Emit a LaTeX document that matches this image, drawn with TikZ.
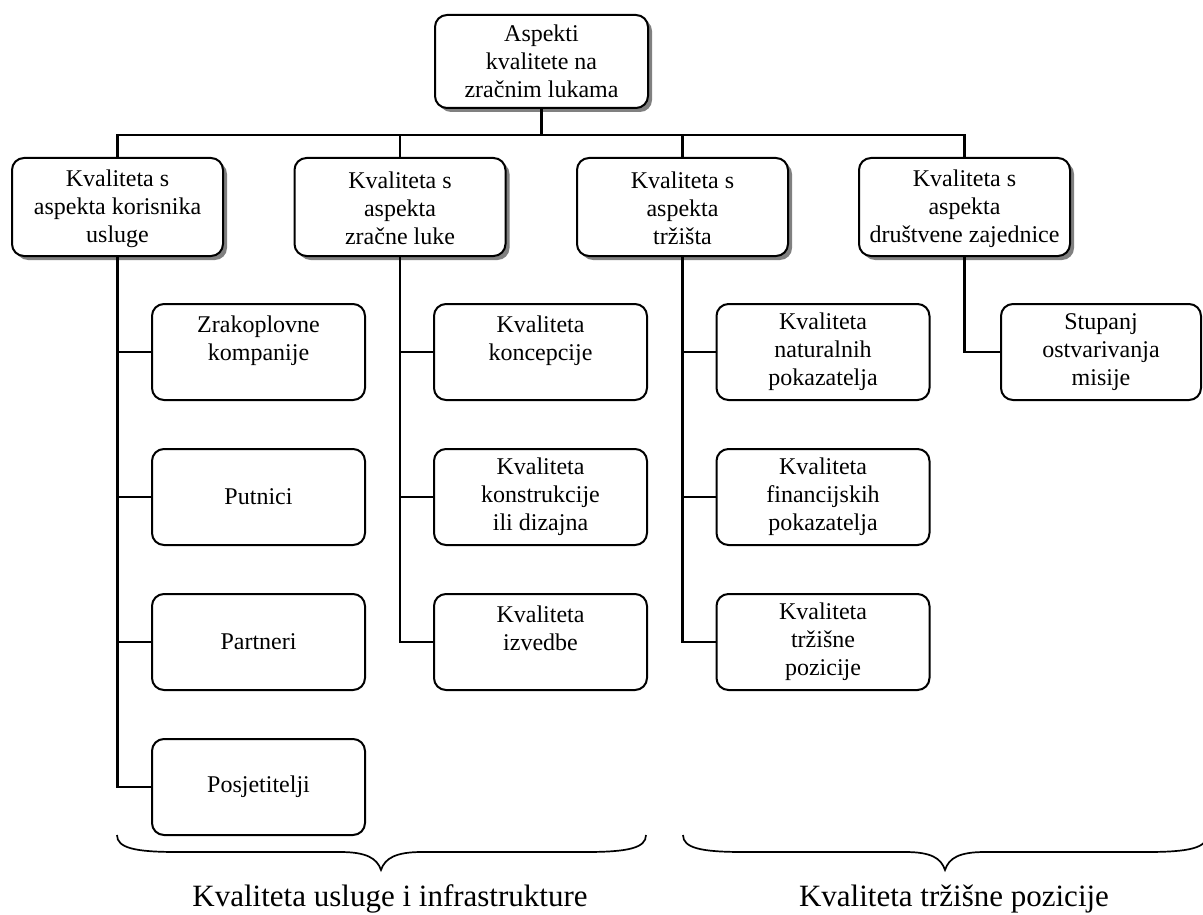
\documentclass[tikz,border=0pt]{standalone}
\usepackage{fontspec}
\setmainfont{Liberation Serif}
\usetikzlibrary{shadows}
\begin{document}
\begin{tikzpicture}[x=1pt,y=-1pt,
  box/.style={draw, line width=2pt, rounded corners=12pt, fill=white, align=center,
    inner sep=0pt, font=\fontsize{24}{28}\selectfont},
  topbox/.style={box, minimum width=211pt, minimum height=98pt,
    drop shadow={shadow xshift=4pt, shadow yshift=-4pt, fill=black!50, opacity=1}},
  rootbox/.style={box, minimum width=213pt, minimum height=93pt,
    drop shadow={shadow xshift=4pt, shadow yshift=-4pt, fill=black!50, opacity=1}},
  childbox/.style={box, minimum width=213pt, minimum height=96pt},
  conn/.style={line width=2.8pt},
  brc/.style={line width=1.7pt},
  lbl/.style={font=\fontsize{31}{36}\selectfont, inner sep=0pt}]
\useasboundingbox (0,0) rectangle (1203,915);

% root and top level
\node[rootbox] (root) at (541.5,61.5) {Aspekti\\kvalitete na\\zračnim lukama};
\node[topbox] (b1) at (117.5,207) {\rule{0pt}{20pt}Kvaliteta s\\aspekta korisnika\\usluge};
\node[topbox] (b2) at (400,207) {\rule{0pt}{20pt}Kvaliteta s\\aspekta\\zračne luke};
\node[topbox] (b3) at (682.5,207) {\rule{0pt}{20pt}Kvaliteta s\\aspekta\\tržišta};
\node[topbox] (b4) at (964.5,207) {\rule{0pt}{20pt}Kvaliteta s\\aspekta\\društvene zajednice};

% children column 1
\node[childbox] (c11) at (258.5,352) {Zrakoplovne\\kompanije\\~};
\node[childbox] (c12) at (258.5,497) {Putnici};
\node[childbox] (c13) at (258.5,642) {Partneri};
\node[childbox] (c14) at (258.5,787) {Posjetitelji};
% column 2
\node[childbox] (c21) at (540.5,352) {Kvaliteta\\koncepcije\\~};
\node[childbox] (c22) at (540.5,497) {Kvaliteta\\konstrukcije\\ili dizajna};
\node[childbox] (c23) at (540.5,642) {Kvaliteta\\izvedbe\\~};
% column 3
\node[childbox] (c31) at (823,352) {Kvaliteta\\naturalnih\\pokazatelja};
\node[childbox] (c32) at (823,497) {Kvaliteta\\financijskih\\pokazatelja};
\node[childbox] (c33) at (823,642) {Kvaliteta\\tržišne\\pozicije};
% column 4
\node[childbox, minimum width=200pt] (c41) at (1101,352) {Stupanj\\ostvarivanja\\misije};

% connectors
\coordinate (bus) at (0,135);
\draw[conn] (root.south) -- (root.south |- bus);
\draw[conn] (b1.north) -- (b1.north |- bus) -- (b4.north |- bus) -- (b4.north);
\draw[conn] (b2.north) -- (b2.north |- bus);
\draw[conn] (b3.north) -- (b3.north |- bus);

\draw[conn] (b1.south) |- (c14.west);
\draw[conn] (b1.south |- c11.west) -- (c11.west);
\draw[conn] (b1.south |- c12.west) -- (c12.west);
\draw[conn] (b1.south |- c13.west) -- (c13.west);

\draw[conn] (b2.south) |- (c23.west);
\draw[conn] (b2.south |- c21.west) -- (c21.west);
\draw[conn] (b2.south |- c22.west) -- (c22.west);

\draw[conn] (b3.south) |- (c33.west);
\draw[conn] (b3.south |- c31.west) -- (c31.west);
\draw[conn] (b3.south |- c32.west) -- (c32.west);

\draw[conn] (b4.south) |- (c41.west);

% braces
\begin{scope}
\clip (0,0) rectangle (1203,915);
\draw[brc] (117,835) .. controls (117,848) and (135,852) .. (177,852) -- (340,852)
  .. controls (366,852) and (377,858) .. (381,870)
  .. controls (385,858) and (396,852) .. (422,852) -- (586,852)
  .. controls (628,852) and (646,848) .. (646,835);
\draw[brc] (683,835) .. controls (683,848) and (701,852) .. (743,852) -- (905,852)
  .. controls (931,852) and (941,858) .. (945,870)
  .. controls (949,858) and (959,852) .. (985,852) -- (1147,852)
  .. controls (1189,852) and (1207,848) .. (1207,835);
\end{scope}

% labels
\node[lbl, anchor=base] (l1) at (390,906) {Kvaliteta usluge i infrastrukture};
\node[lbl, anchor=base] (l2) at (954,906) {Kvaliteta tržišne pozicije};
\end{tikzpicture}
\end{document}
